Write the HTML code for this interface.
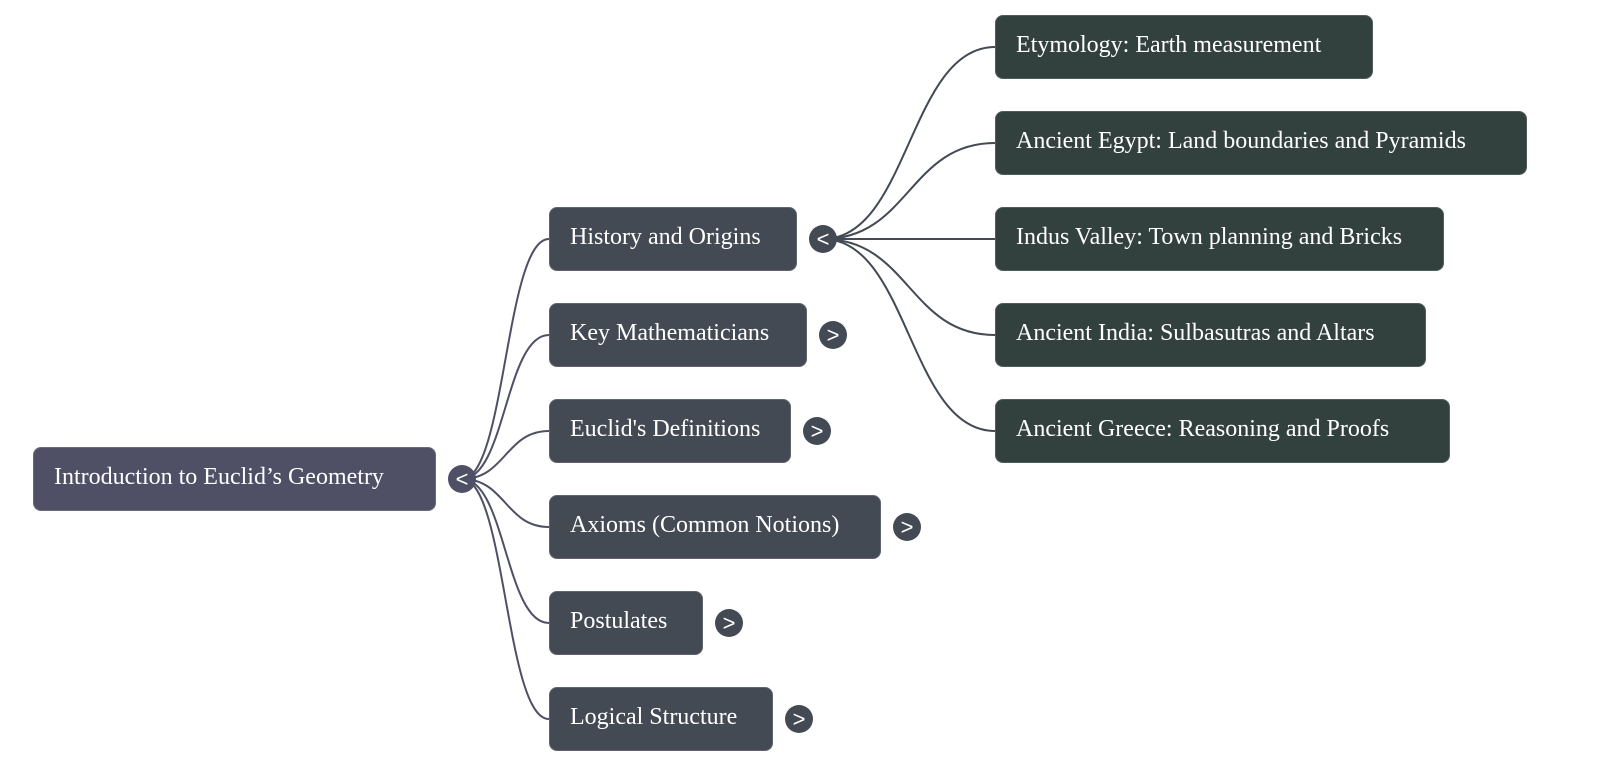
<!DOCTYPE html>
<html>
<head>
<meta charset="utf-8">
<style>
  html, body { margin: 0; padding: 0; background: #ffffff; }
  body { width: 1600px; height: 766px; position: relative; overflow: hidden; }
  svg { position: absolute; left: 0; top: 0; }
  .n {
    position: absolute;
    height: 64px;
    box-sizing: border-box;
    border-radius: 8px;
    color: #ffffff;
    font-family: "Liberation Serif", "Times New Roman", serif;
    font-size: 24px;
    line-height: 60px;
    padding-left: 21px;
    white-space: nowrap;
    box-shadow: 0 0 0 1px rgba(255,255,255,0.15) inset;
  }
  .r { background: #4f5066; }
  .l1 { background: #434a54; }
  .l2 { background: #33413e; }
</style>
</head>
<body>
<svg width="1600" height="766" viewBox="0 0 1600 766" xmlns="http://www.w3.org/2000/svg">
  <g fill="none" stroke="#4f5066" stroke-width="2">
    <path d="M462,479 C505.5,479 505.5,239 549,239"/>
    <path d="M462,479 C505.5,479 505.5,335 549,335"/>
    <path d="M462,479 C505.5,479 505.5,431 549,431"/>
    <path d="M462,479 C505.5,479 505.5,527 549,527"/>
    <path d="M462,479 C505.5,479 505.5,623 549,623"/>
    <path d="M462,479 C505.5,479 505.5,719 549,719"/>
  </g>
  <g fill="none" stroke="#434a54" stroke-width="2">
    <path d="M823,239 C909,239 909,47 995,47"/>
    <path d="M823,239 C909,239 909,143 995,143"/>
    <path d="M823,239 L995,239"/>
    <path d="M823,239 C909,239 909,335 995,335"/>
    <path d="M823,239 C909,239 909,431 995,431"/>
  </g>
  <g>
    <circle cx="462" cy="479" r="14" fill="#4f5066"/>
    <circle cx="823" cy="239" r="14" fill="#434a54"/>
    <circle cx="833" cy="335" r="14" fill="#434a54"/>
    <circle cx="817" cy="431" r="14" fill="#434a54"/>
    <circle cx="907" cy="527" r="14" fill="#434a54"/>
    <circle cx="729" cy="623" r="14" fill="#434a54"/>
    <circle cx="799" cy="719" r="14" fill="#434a54"/>
  </g>
  <g fill="#ffffff" font-family="Liberation Sans, Arial, sans-serif" font-size="22" text-anchor="middle" dominant-baseline="central">
    <text x="462" y="479">&lt;</text>
    <text x="823" y="239">&lt;</text>
    <text x="833" y="335">&gt;</text>
    <text x="817" y="431">&gt;</text>
    <text x="907" y="527">&gt;</text>
    <text x="729" y="623">&gt;</text>
    <text x="799" y="719">&gt;</text>
  </g>
</svg>

<div class="n r" style="left:33px;top:447px;width:403px;">Introduction to Euclid’s Geometry</div>

<div class="n l1" style="left:549px;top:207px;width:248px;">History and Origins</div>
<div class="n l1" style="left:549px;top:303px;width:258px;">Key Mathematicians</div>
<div class="n l1" style="left:549px;top:399px;width:242px;">Euclid's Definitions</div>
<div class="n l1" style="left:549px;top:495px;width:332px;">Axioms (Common Notions)</div>
<div class="n l1" style="left:549px;top:591px;width:154px;">Postulates</div>
<div class="n l1" style="left:549px;top:687px;width:224px;">Logical Structure</div>

<div class="n l2" style="left:995px;top:15px;width:378px;">Etymology: Earth measurement</div>
<div class="n l2" style="left:995px;top:111px;width:532px;">Ancient Egypt: Land boundaries and Pyramids</div>
<div class="n l2" style="left:995px;top:207px;width:449px;">Indus Valley: Town planning and Bricks</div>
<div class="n l2" style="left:995px;top:303px;width:431px;">Ancient India: Sulbasutras and Altars</div>
<div class="n l2" style="left:995px;top:399px;width:455px;">Ancient Greece: Reasoning and Proofs</div>
</body>
</html>
